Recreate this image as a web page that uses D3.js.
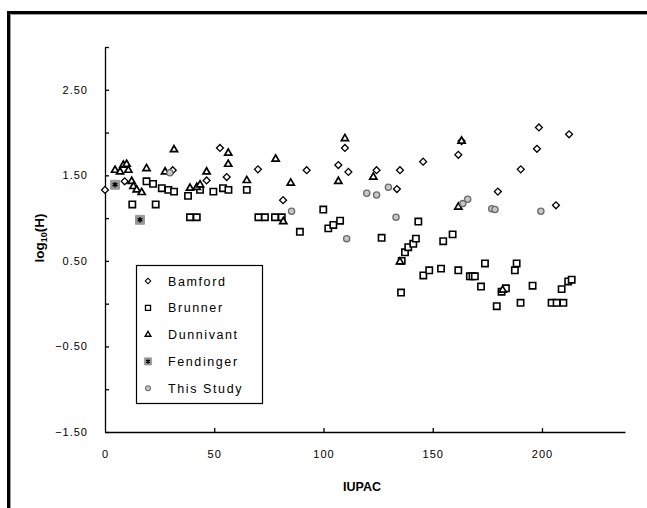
<!DOCTYPE html>
<html>
<head>
<meta charset="utf-8">
<script src="https://cdn.jsdelivr.net/npm/d3@7"></script>
<style>
  body { margin: 0; background: #fff; }
  svg { display: block; font-family: "Liberation Sans", Arial, sans-serif; }
  .axis path, .axis line { stroke: #000; stroke-width: 1.3; }
  .axis text { font-size: 11px; letter-spacing: 1px; fill: #000; }
  .axis-title { font-size: 12.5px; font-weight: bold; }
  .legend-text { font-size: 12.5px; letter-spacing: 1.6px; }
</style>
</head>
<body>
<svg id="chart" width="647" height="508"></svg>
<script>
// log10(H) vs IUPAC number
const bamford = [
  [0, 1.33], [9, 1.43], [31, 1.56], [46.5, 1.44], [52.6, 1.82], [55.7, 1.48],
  [70, 1.57], [81.5, 1.21], [92.3, 1.56], [106.8, 1.62], [109.8, 1.82], [111.4, 1.54],
  [124.3, 1.56], [133.6, 1.34], [135, 1.56], [145.6, 1.66], [161.7, 1.74], [163.2, 1.9],
  [179.8, 1.31], [190.3, 1.57], [197.7, 1.81], [198.6, 2.06], [206.4, 1.15], [212.4, 1.98]
];
const brunner = [
  [12.5, 1.16], [19, 1.43], [22, 1.4], [23.2, 1.16], [26, 1.35], [29, 1.33], [31.6, 1.31],
  [38, 1.26], [38.9, 1.01], [42, 1.01], [43.5, 1.33], [49.6, 1.31], [54, 1.35], [56.5, 1.33],
  [64.9, 1.33], [70.2, 1.01], [73.2, 1.01], [77.8, 1.01], [80.9, 1.01], [89.2, 0.84],
  [99.9, 1.1], [102.2, 0.88], [104.5, 0.92], [107.6, 0.97], [126.6, 0.77], [135.5, 0.13],
  [135.8, 0.5], [137.3, 0.6], [138.8, 0.66], [141.1, 0.7], [142.3, 0.76], [143.4, 0.96],
  [145.7, 0.33], [148.4, 0.39], [153.8, 0.41], [154.8, 0.73], [159.1, 0.81], [161.7, 0.39],
  [167, 0.32], [168.2, 0.32], [169.3, 0.32], [172.1, 0.2], [173.9, 0.47], [179.3, -0.03],
  [181.5, 0.14], [183.5, 0.18], [187.6, 0.39], [188.4, 0.47], [190.2, 0.01], [195.7, 0.21],
  [204.4, 0.01], [206.7, 0.01], [209.8, 0.01], [209, 0.17], [212, 0.26], [213.6, 0.28]
];
const dunnivant = [
  [4.6, 1.56], [6.9, 1.54], [8.4, 1.62], [9.9, 1.63], [10.7, 1.56], [12.2, 1.43], [13, 1.37],
  [14.5, 1.33], [16.8, 1.3], [19, 1.58], [27.5, 1.54], [31.6, 1.8], [38.9, 1.35], [42, 1.36],
  [43.5, 1.39], [46.5, 1.54], [56.4, 1.76], [56.4, 1.63], [64.9, 1.44], [78.1, 1.69],
  [81.6, 0.96], [85, 1.41], [106.8, 1.43], [109.8, 1.93], [122.8, 1.48], [135, 0.49],
  [161.7, 1.13], [163.2, 1.9], [182, 0.16]
];
const fendinger = [[4.6, 1.39], [16, 0.98]];
const thisStudy = [
  [29.7, 1.53], [85.4, 1.08], [110.6, 0.76], [119.8, 1.29], [124.3, 1.27], [129.7, 1.36],
  [133.2, 1.01], [163.8, 1.17], [166, 1.22], [177, 1.11], [178.5, 1.1], [199.5, 1.08]
];

const seriesNames = ['Bamford', 'Brunner', 'Dunnivant', 'Fendinger', 'This Study'];
const xTicks = [0, 50, 100, 150, 200];
const yTicks = [-1.5, -1, -0.5, 0, 0.5, 1, 1.5, 2, 2.5, 3];
const yLabels = [-1.5, -0.5, 0.5, 1.5, 2.5];

const svg = d3.select('#chart');

// outer frame (runs off the picture at right and bottom)
svg.append('rect')
  .attr('x', 8.5).attr('y', 12.5)
  .attr('width', 700).attr('height', 600)
  .attr('fill', 'none').attr('stroke', '#000').attr('stroke-width', 3);
svg.append('path')
  .attr('d', 'M10.5,700V14.5H700')
  .attr('fill', 'none').attr('stroke', '#999').attr('stroke-width', 1);

const x = d3.scaleLinear().domain([0, 238]).range([105, 625]);
const y = d3.scaleLinear().domain([-1.5, 3]).range([432, 47]);

// axes
svg.append('g')
  .attr('class', 'axis')
  .attr('transform', 'translate(0,432)')
  .call(d3.axisBottom(x).tickValues(xTicks).tickSizeInner(-4).tickSizeOuter(0).tickPadding(18)
    .tickFormat(d3.format('d')))
  .call(g => g.selectAll('.tick').filter(d => d === 0).select('line').remove());

svg.append('g')
  .attr('class', 'axis')
  .attr('transform', 'translate(105,0)')
  .call(d3.axisLeft(y).tickValues(yTicks).tickSizeInner(-4).tickSizeOuter(0).tickPadding(17)
    .tickFormat(d => yLabels.includes(d) ? d3.format('.2f')(d) : ''));

// axis titles
svg.append('text')
  .attr('class', 'axis-title')
  .attr('x', 362).attr('y', 491)
  .attr('text-anchor', 'middle')
  .text('IUPAC');

const yt = svg.append('text')
  .attr('class', 'axis-title')
  .attr('transform', 'translate(44,238) rotate(-90)')
  .attr('text-anchor', 'middle')
  .style('font-size', '13.5px');
yt.append('tspan').text('log');
yt.append('tspan').attr('font-size', '9px').attr('dy', 3).text('10');
yt.append('tspan').attr('dy', -3).text('(H)');

// marker drawing
const markers = {
  'Bamford': g => g.append('path')
    .attr('d', d3.symbol(d3.symbolSquare, 24)())
    .attr('transform', 'rotate(45)')
    .attr('fill', '#fff').attr('stroke', '#000').attr('stroke-width', 1.3),
  'Brunner': g => g.append('path')
    .attr('d', d3.symbol(d3.symbolSquare, 40)())
    .attr('fill', '#fff').attr('stroke', '#000').attr('stroke-width', 1.6),
  'Dunnivant': g => g.append('path')
    .attr('d', d3.symbol(d3.symbolTriangle, 22)())
    .attr('fill', '#fff').attr('stroke', '#000').attr('stroke-width', 1.7),
  'Fendinger': g => {
    g.append('path')
      .attr('d', d3.symbol(d3.symbolSquare, 80)())
      .attr('fill', '#999').attr('stroke', '#999');
    g.append('path')
      .attr('d', d3.symbol(d3.symbolAsterisk, 22)())
      .attr('fill', 'none').attr('stroke', '#000').attr('stroke-width', 1.3);
  },
  'This Study': g => g.append('path')
    .attr('d', d3.symbol(d3.symbolCircle, 30)())
    .attr('fill', '#c8c8c8').attr('stroke', '#6a6a6a').attr('stroke-width', 1.3)
};

const seriesData = [bamford, brunner, dunnivant, fendinger, thisStudy];

seriesNames.forEach((name, i) => {
  svg.append('g')
    .attr('class', 'series')
    .selectAll('g')
    .data(seriesData[i])
    .join('g')
    .attr('transform', d => `translate(${x(d[0])},${y(d[1])})`)
    .each(function() { markers[name](d3.select(this)); });
});

// legend
const legend = svg.append('g').attr('transform', 'translate(136,265)');
legend.append('rect')
  .attr('x', 0.5).attr('y', 0.5)
  .attr('width', 126).attr('height', 138)
  .attr('fill', '#fff').attr('stroke', '#000').attr('stroke-width', 1.2);

const item = legend.selectAll('g.item')
  .data(seriesNames)
  .join('g')
  .attr('class', 'item')
  .attr('transform', (d, i) => `translate(12,${16 + i * 26.8})`);

item.each(function(d) {
  const m = d3.select(this).append('g').attr('transform', 'scale(0.8)');
  markers[d](m);
});
item.append('text')
  .attr('class', 'legend-text')
  .attr('x', 20).attr('y', 4.5)
  .text(d => d);
</script>
</body>
</html>
